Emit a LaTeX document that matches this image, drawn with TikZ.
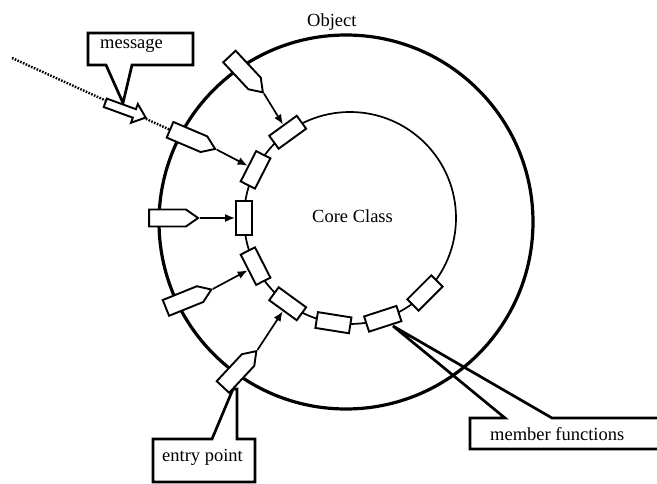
\documentclass[tikz,border=0pt]{standalone}
\usepackage{fontspec}
\setmainfont{Liberation Serif}
\usetikzlibrary{shapes.symbols,arrows.meta,calc}
\begin{document}
\begin{tikzpicture}[x=1pt,y=-1pt,
  outer/.style={line width=3.2pt},
  inner/.style={line width=1.7pt},
  mf/.style={draw, fill=white, line width=1.9pt, minimum width=34pt, minimum height=16pt, inner sep=0pt, shape=rectangle},
  entry/.style={signal, signal to=east, signal pointer angle=70, draw, fill=white, line width=1.9pt, minimum width=49pt, minimum height=17pt, inner sep=0pt},
  conn/.style={line width=1.7pt, -{Latex[length=10pt,width=8pt]}},
  callout/.style={line width=2.7pt, line join=miter},
  lbl/.style={font=\fontsize{18.5}{22}\selectfont, inner sep=0pt},
  msgline/.style={line width=2.4pt, dash pattern=on 1.6pt off 1.4pt},
  blockarrow/.style={draw, fill=white, line width=1.9pt, line join=miter}
]
\useasboundingbox (0,0) rectangle (657,484);
\coordinate (oc) at (346,222);
\coordinate (ic) at (350,218);
% circles
\draw[outer] (oc) circle[radius=187];
\draw[inner] (ic) circle[radius=106];
% labels
\node[lbl, anchor=base west] (obj) at (307,27) {Object};
\node[lbl, anchor=base west] (core) at (312,223) {Core Class};
% callouts
\draw[callout] (88,33) -- (193,33) -- (193,65) -- (132,65) -- (123,103) -- (106,65) -- (88,65) -- cycle;
\node[lbl, anchor=base west] (msg) at (100,49) {message};
\draw[callout] (153,482) -- (153,439) -- (212,439) -- (233,389) -- (237,389) -- (237,439) -- (255,439) -- (255,482) -- cycle;
\node[lbl, anchor=base west] (ep) at (162,461) {entry point};
\draw[callout] (470,418) -- (505,418) -- (393,326) -- (552,418) -- (662,418) -- (662,449) -- (470,449) -- cycle;
\node[lbl, anchor=base west] (mfl) at (490,440) {member functions};
% member functions on the core class
\foreach \a/\n in {126/1,153/2,180/3,207/4,234/5,261/6,288/7,315/8}
  \node[mf, rotate=\a+90] (r\n) at ($(ic)+(-\a:106)$) {};
% entry points
\node[entry, rotate=-47] (e1) at (242,70) {};
\node[entry, rotate=-23] (e2) at (187,137) {};
\node[entry, rotate=0] (e3) at (167.5,218) {};
\node[entry, rotate=22] (e4) at (183,301) {};
\node[entry, rotate=47] (e5) at (235.5,373.5) {};
% message
\coordinate (ms) at (12,58);
\draw[msgline] (ms) -- (e2.west);
\begin{scope}[shift={(125,110)}, rotate=-20]
  \draw[blockarrow] (-21,-4.5) -- (10,-4.5) -- (10,-10) -- (22,0) -- (10,10) -- (10,4.5) -- (-21,4.5) -- cycle;
\end{scope}
% arrows from entry points
\foreach \n in {1,...,5}
  \draw[conn] (e\n.east) -- (r\n);
\end{tikzpicture}
\end{document}
